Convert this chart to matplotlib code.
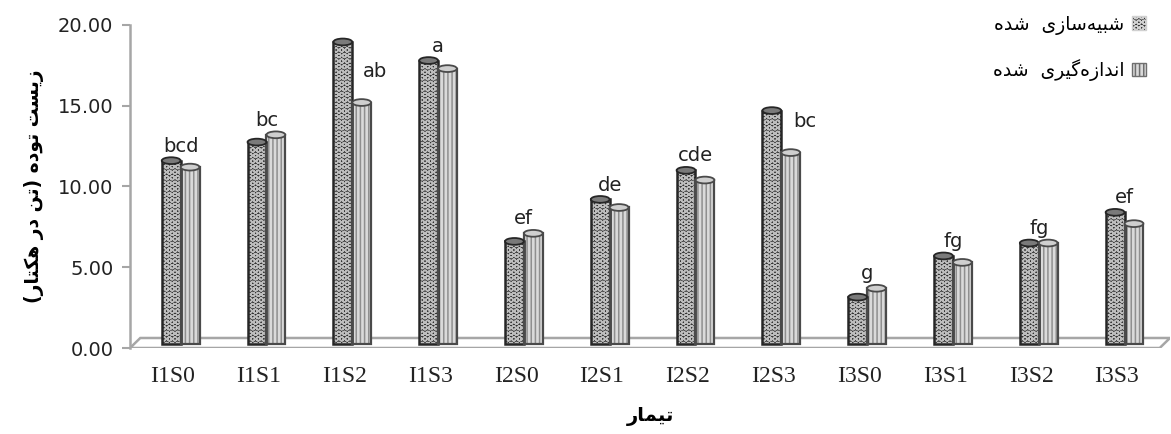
import numpy as np, matplotlib
matplotlib.use('Agg')
import matplotlib.pyplot as plt
from matplotlib.patches import Ellipse, Polygon, Patch

treatments = ['I1S0','I1S1','I1S2','I1S3','I2S0','I2S1','I2S2','I2S3','I3S0','I3S1','I3S2','I3S3']
simulated = [11.6, 12.75, 18.95, 17.8, 6.6, 9.2, 11.0, 14.7, 3.15, 5.7, 6.5, 8.4]
measured = [11.2, 13.2, 15.2, 17.3, 7.1, 8.7, 10.4, 12.1, 3.7, 5.3, 6.5, 7.7]
letters = ['bcd','bc','ab','a','ef','de','cde','bc','g','fg','fg','ef']
over_measured = ['I1S2', 'I2S3']   # letters sitting above the measured bar

# Persian labels (logical order)
lbl_sim = 'شبیه\u200cسازی  شده'
lbl_meas = 'اندازه\u200cگیری  شده'
lbl_y = 'زیست توده (تن در هکتار)'
lbl_x = 'تیمار'

# contextual forms: isolated, final, initial, medial
FORMS = {
    'ا': ('\uFE8D','\uFE8E',None,None), 'ب': ('\uFE8F','\uFE90','\uFE91','\uFE92'),
    'ت': ('\uFE95','\uFE96','\uFE97','\uFE98'), 'د': ('\uFEA9','\uFEAA',None,None),
    'ر': ('\uFEAD','\uFEAE',None,None), 'ز': ('\uFEAF','\uFEB0',None,None),
    'س': ('\uFEB1','\uFEB2','\uFEB3','\uFEB4'), 'ش': ('\uFEB5','\uFEB6','\uFEB7','\uFEB8'),
    'م': ('\uFEE1','\uFEE2','\uFEE3','\uFEE4'), 'ن': ('\uFEE5','\uFEE6','\uFEE7','\uFEE8'),
    'ه': ('\uFEE9','\uFEEA','\uFEEB','\uFEEC'), 'و': ('\uFEED','\uFEEE',None,None),
    'ی': ('\uFBFC','\uFBFD','\uFBFE','\uFBFF'), 'ک': ('\uFB8E','\uFB8F','\uFB90','\uFB91'),
    'گ': ('\uFB92','\uFB93','\uFB94','\uFB95'),
}

def fa(s):
    out = []
    for i, ch in enumerate(s):
        if ch not in FORMS:
            if ch != '\u200c': out.append(ch)
            continue
        iso, fin, ini, med = FORMS[ch]
        prev = s[i-1] if i > 0 else ''
        nxt = s[i+1] if i+1 < len(s) else ''
        jp = prev in FORMS and FORMS[prev][2] is not None
        jn = nxt in FORMS and ini is not None
        out.append(med if jp and jn else fin if jp else ini if jn else iso)
    return ''.join(out)[::-1].translate(str.maketrans('()', ')('))

plt.rcParams['hatch.linewidth'] = 1.1
W, H = 1171, 434
fig = plt.figure(figsize=(W/100, H/100), dpi=100)
ax = fig.add_axes([130/W, (H-348)/H, 1040/W, 323/H])

x = np.arange(len(treatments))
bw = 0.22
xs, xm = x - 0.02, x + 0.20
base = 0.25
ell_h = 0.42
grey = '#a6a6a6'

# floor of the 3-D plot
x0, x1, dx, dy = -0.5, 11.62, 0.12, 0.62
ax.add_patch(Polygon([(x0, 0), (x1-dx, 0), (x1, dy), (x0+dx, dy)], closed=True,
                     facecolor='white', edgecolor=grey, lw=1.8, zorder=1))

sim_vals, meas_vals = np.array(simulated), np.array(measured)
# simulated: dark cylinders with light dots
ax.bar(xs, sim_vals-base, bw, bottom=base, color='#333333', hatch='OOO', edgecolor='#bdbdbd', lw=0, zorder=2)
ax.bar(xs, sim_vals-base, bw, bottom=base, fill=False, edgecolor='#262626', lw=1.8, zorder=3)
# measured: light cylinders with fine vertical stripes
ax.bar(xm, meas_vals-base, bw, bottom=base, color='#dadada', hatch='||||', edgecolor='#8f8f8f', lw=0, zorder=2)
ax.bar(xm, meas_vals-base, bw, bottom=base, fill=False, edgecolor='#4a4a4a', lw=1.6, zorder=3)
for xi, v in zip(xs, sim_vals):
    ax.add_patch(Ellipse((xi, v), bw, ell_h, facecolor='#7a7a7a', edgecolor='#262626', lw=1.3, zorder=4))
for xi, v in zip(xm, meas_vals):
    ax.add_patch(Ellipse((xi, v), bw, ell_h, facecolor='#cfcfcf', edgecolor='#4a4a4a', lw=1.3, zorder=4))

# Duncan grouping letters
for i, t in enumerate(treatments):
    if t in over_measured:
        lx, ly = i + 0.36, measured[i] + 1.6
    else:
        lx, ly = i + 0.09, max(simulated[i], measured[i]) + 0.55
    ax.text(lx, ly, letters[i], ha='center', va='baseline', fontsize=14, color='#222222', zorder=5)

ax.set_xlim(x0, x1)
ax.set_ylim(0, 20)
ax.set_yticks([0, 5, 10, 15, 20])
ax.set_yticklabels([f'{v:.2f}' for v in [0, 5, 10, 15, 20]], fontsize=14, color='#222222')
ax.tick_params(axis='y', color=grey, width=1.5, length=6, pad=6)
ax.set_xticks(x)
ax.set_xticklabels(treatments, fontfamily='Liberation Serif', fontsize=17, color='#222222')
ax.tick_params(axis='x', length=0, pad=13)
for s in ['top', 'right', 'bottom']:
    ax.spines[s].set_visible(False)
ax.spines['left'].set_color(grey)
ax.spines['left'].set_linewidth(1.8)

ax.set_ylabel(fa(lbl_y), fontsize=13.5, fontweight='bold', family='DejaVu Sans', labelpad=10)
ax.set_xlabel(fa(lbl_x), fontsize=14, fontweight='bold', family='DejaVu Sans', labelpad=14)

handles = [Patch(facecolor='#333333', hatch='OOO', edgecolor='#d0d0d0'),
           Patch(facecolor='#dadada', hatch='||||', edgecolor='#6f6f6f')]
fig.legend(handles, [fa(lbl_sim), fa(lbl_meas)], loc='upper right', bbox_to_anchor=(0.993, 1.005),
           markerfirst=False, frameon=False, fontsize=13.5, labelspacing=1.3,
           handlelength=0.75, handleheight=0.75, handletextpad=0.4)

fig.savefig('out.png', dpi=100)
